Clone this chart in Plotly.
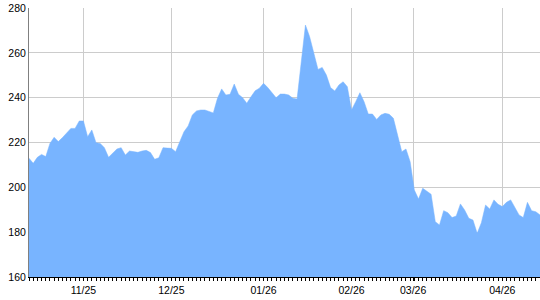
import plotly.graph_objects as go

values = [
    213, 210.7, 213.4, 214.7, 213.7, 219.6, 222.3, 220.4, 222.2, 224.1,
    226.3, 226.3, 229.6, 229.6, 222.6, 225.6, 219.9, 219.6, 217.7, 213.4,
    215.2, 217.1, 217.7, 214.4, 216.2, 215.9, 215.6, 216.2, 216.5, 215.5,
    212.5, 213.2, 217.7, 217.5, 217.4, 215.9, 220.4, 224.8, 227.4, 232.3,
    234.1, 234.5,
    234.5, 233.7, 233.2, 239.7, 243.9, 241.2, 241.5, 246.1, 241.5, 240,
    237.5, 240.4, 243.1, 244.2, 246.4, 244.5, 242.4, 240, 241.6, 241.6,
    241.2, 239.7, 239.4, 256, 272.4, 267.2, 260.5, 252.6, 253.5, 250.1,
    244.5, 243, 245.7, 247.1, 244.9, 234.5, 238.2, 242.2, 238.2, 232.7,
    232.7, 230.3, 232.3, 233, 232.6, 230.8, 223.3, 215.9, 217.1, 211.4,
    198.8, 194.8, 199.6, 198.1, 196.9, 184.7, 183.2, 189.6, 188.7, 186.5,
    187.2, 192.6, 189.9, 186.2, 185.4, 179.5, 184.2, 192.1, 190.3, 194.4,
    192.4, 191.4, 193.3, 194.4, 190.9, 187.7, 186.5, 193.3, 189.6, 189.1,
    187.7,
]
x_index = list(range(len(values)))

tick_positions = [13, 34, 56, 77, 91.7, 113]
tick_labels = ["11/25", "12/25", "01/26", "02/26", "03/26", "04/26"]

y_ticks = [160, 180, 200, 220, 240, 260, 280]

FILL = "#78b4ff"
FONT = dict(family="Liberation Sans, Arial, sans-serif", size=10.5, color="#000000")

fig = go.Figure()
fig.add_trace(go.Scatter(
    x=x_index, y=values, mode="lines",
    line=dict(color=FILL, width=0.5),
    fill="tozeroy", fillcolor=FILL,
    hoverinfo="skip", showlegend=False,
))

fig.update_layout(
    width=540, height=300,
    margin=dict(l=29, r=0, t=8, b=23),
    paper_bgcolor="white", plot_bgcolor="white",
    font=FONT,
    showlegend=False,
    xaxis=dict(
        range=[0, len(values) - 1],
        tickmode="array", tickvals=tick_positions, ticktext=tick_labels,
        showgrid=True, gridcolor="#cccccc", gridwidth=1,
        ticks="outside", ticklen=3, tickcolor="#000000", tickwidth=1,
        showline=True, linecolor="#000000", linewidth=1,
        zeroline=False,
        minor=dict(dtick=1, tick0=0, ticks="outside", ticklen=3,
                   tickcolor="#000000", tickwidth=1, showgrid=False),
        tickfont=FONT,
    ),
    yaxis=dict(
        range=[160, 280],
        tickmode="array", tickvals=y_ticks,
        showgrid=True, gridcolor="#cccccc", gridwidth=1,
        ticks="", showline=True, linecolor="#808080", linewidth=1,
        zeroline=False, tickfont=FONT,
    ),
)

fig.write_html("out.html")
